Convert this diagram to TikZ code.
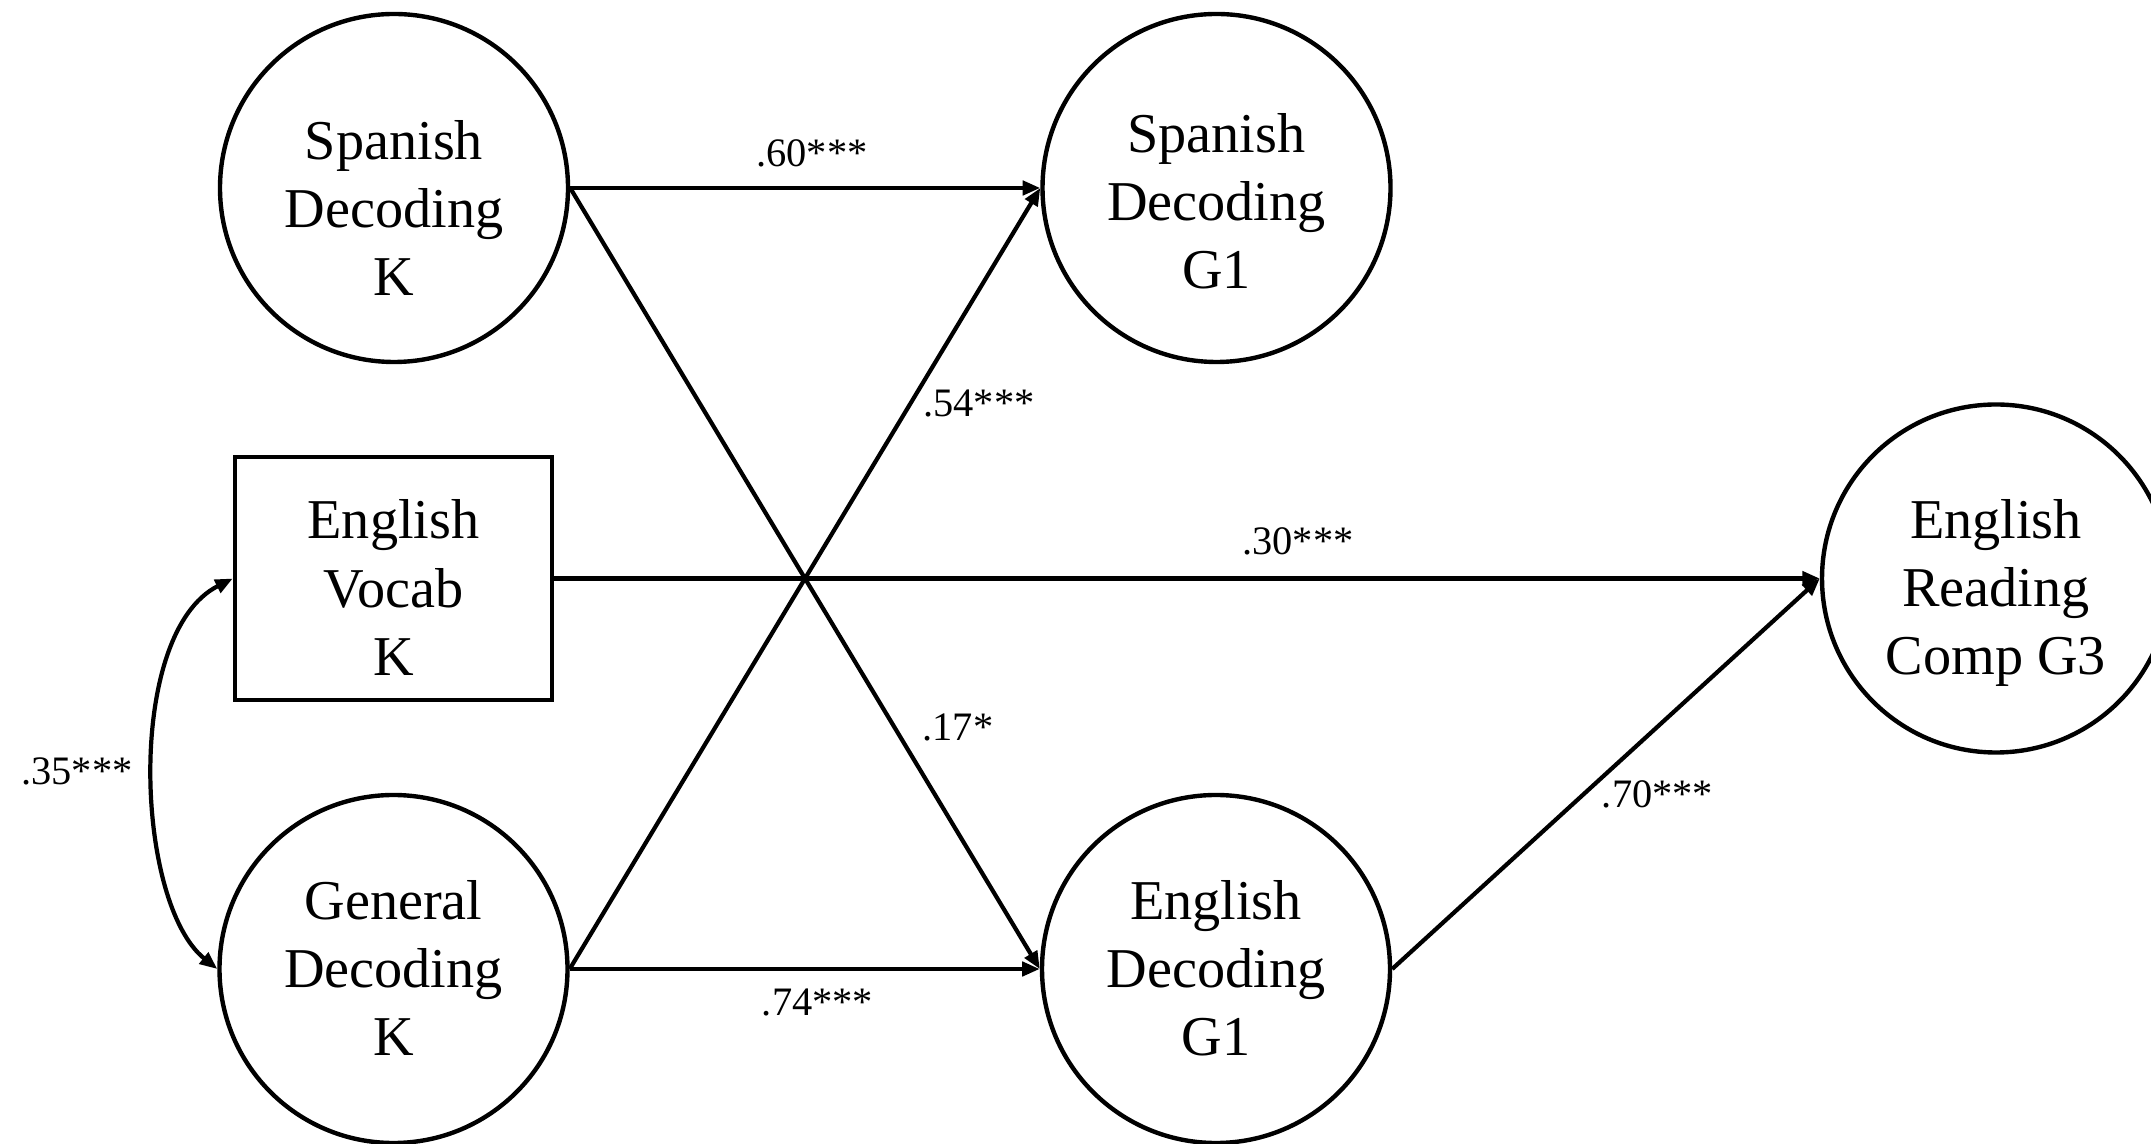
\documentclass[tikz,border=0pt]{standalone}
\usepackage{fontspec}
\setmainfont{Liberation Serif}
\usetikzlibrary{arrows.meta}

\begin{document}
\begin{tikzpicture}[
  latent/.style={circle, draw, line width=1.25pt, minimum size=3.48cm, inner sep=0pt},
  observed/.style={rectangle, draw, line width=1.25pt, minimum width=3.17cm, minimum height=2.43cm, inner sep=0pt},
  caption/.style={align=center, font=\fontsize{16pt}{19.4pt}\selectfont, inner sep=0pt},
  coef/.style={font=\fontsize{11.5pt}{13pt}\selectfont, inner sep=0pt},
  tip/.tip={Triangle[length=5pt, width=4pt]},
  effect/.style={draw, line width=1.2pt, -tip},
  covar/.style={draw, line width=1.2pt, tip-tip},
]
% page frame
\clip (0,0) rectangle (21.51,11.43);
\fill[white] (0,0) rectangle (21.51,11.43);

% constructs
\node[latent]   (sdk) at (3.94,9.55)   {};
\node[latent]   (sdg) at (12.165,9.55) {};
\node[observed] (evk) at (3.935,5.645) {};
\node[latent]   (gdk) at (3.935,1.74)  {};
\node[latent]   (edg) at (12.16,1.74)  {};
\node[latent]   (erc) at (19.96,5.645) {};

% construct names
\node[caption] (sdk-t) at ([yshift=-0.20cm]sdk.center) {Spanish\\Decoding\\K};
\node[caption] (sdg-t) at ([yshift=-0.13cm]sdg.center) {Spanish\\Decoding\\G1};
\node[caption] (evk-t) at ([yshift=-0.09cm]evk.center) {English\\Vocab\\K};
\node[caption] (gdk-t) at ([yshift=0.01cm]gdk.center)  {General\\Decoding\\K};
\node[caption] (edg-t) at ([yshift=0.01cm]edg.center)  {English\\Decoding\\G1};
\node[caption] (erc-t) at ([yshift=-0.145cm]erc.center) {English\\Reading\\Comp G3};

% paths
\draw[effect] (sdk.east) -- (sdg.west);
\draw[effect] (sdk.east) -- (edg.west);
\draw[effect] (gdk.east) -- (sdg.west);
\draw[effect] (gdk.east) -- (edg.west);
\draw[effect] (evk.east) -- (erc.west);
\draw[effect] (edg.east) -- (erc.west);
\draw[covar] (evk.west) .. controls (1.25,5.1) and (1.35,2.4) .. (gdk.west);

% coefficients
\node[coef] (c60) at (8.12,9.895)  {.60***};
\node[coef] (c54) at (9.79,7.395)  {.54***};
\node[coef] (c30) at (12.98,6.015) {.30***};
\node[coef] (c17) at (9.58,4.16)   {.17*};
\node[coef] (c70) at (16.575,3.49) {.70***};
\node[coef] (c74) at (8.175,1.41)  {.74***};
\node[coef] (c35) at (0.77,3.72)   {.35***};
\end{tikzpicture}
\end{document}
